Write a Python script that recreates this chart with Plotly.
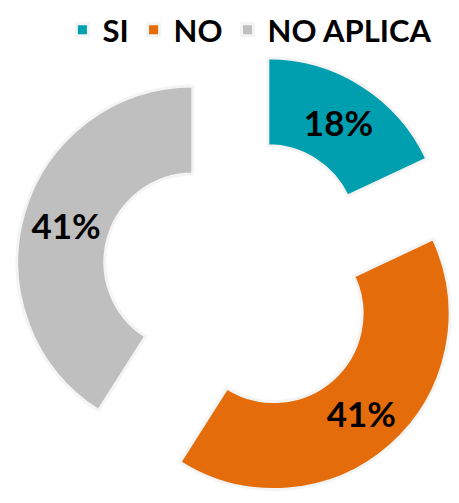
import plotly.graph_objects as go

labels = ["SI", "NO", "NO APLICA"]
values = [18, 41, 41]
colors = ["#009FB0", "#E46C0A", "#BFBFBF"]

fig = go.Figure(go.Pie(
    labels=labels,
    values=values,
    hole=0.5,
    sort=False,
    direction="clockwise",
    rotation=0,
    pull=[0.285, 0.285, 0.285],
    domain=dict(x=[0.015, 1], y=[0, 1]),
    marker=dict(colors=colors, line=dict(color="#F4F4F4", width=3)),
    texttemplate="%{percent:.0%}",
    textposition="inside",
    insidetextorientation="horizontal",
    insidetextfont=dict(size=35, color="black", family="Lato", weight="bold"),
    hoverinfo="label+percent",
))

fig.update_layout(
    width=459,
    height=503,
    paper_bgcolor="white",
    font=dict(family="Lato", color="black"),
    showlegend=True,
    legend=dict(
        orientation="h",
        x=0.527, xanchor="center",
        y=1.023, yanchor="middle",
        font=dict(size=31, family="Lato", weight="bold", color="black"),
        traceorder="normal",
        itemwidth=30,
    ),
    margin=dict(l=0, r=0, t=33, b=0, autoexpand=False),
)

fig.write_html("out.html")
